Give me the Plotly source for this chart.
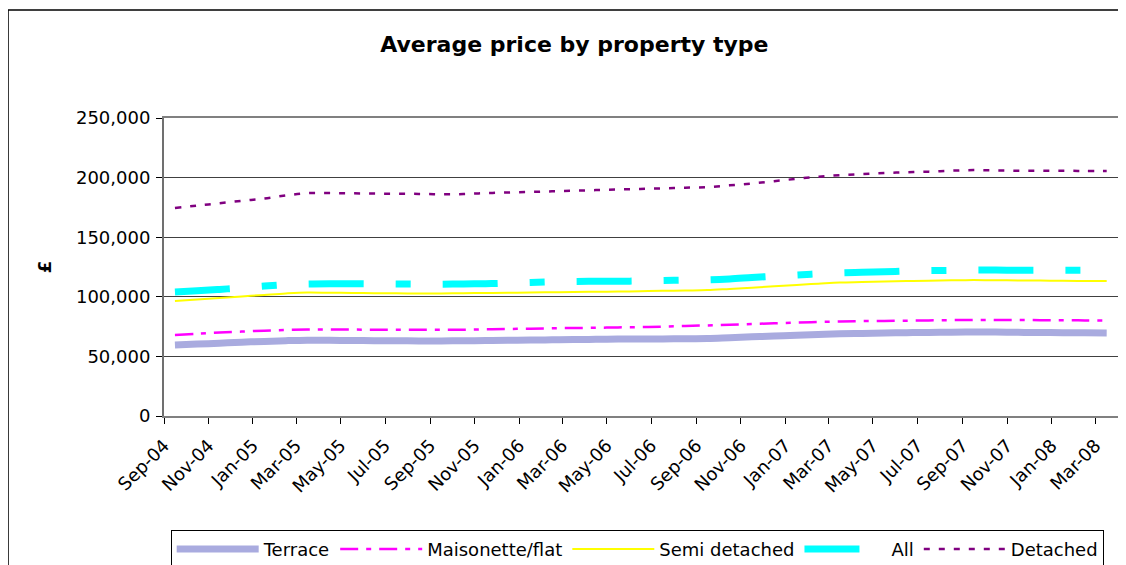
import plotly.graph_objects as go

months = [
    "2004-09-01", "2004-10-01", "2004-11-01", "2004-12-01",
    "2005-01-01", "2005-02-01", "2005-03-01", "2005-04-01", "2005-05-01", "2005-06-01",
    "2005-07-01", "2005-08-01", "2005-09-01", "2005-10-01", "2005-11-01", "2005-12-01",
    "2006-01-01", "2006-02-01", "2006-03-01", "2006-04-01", "2006-05-01", "2006-06-01",
    "2006-07-01", "2006-08-01", "2006-09-01", "2006-10-01", "2006-11-01", "2006-12-01",
    "2007-01-01", "2007-02-01", "2007-03-01", "2007-04-01", "2007-05-01", "2007-06-01",
    "2007-07-01", "2007-08-01", "2007-09-01", "2007-10-01", "2007-11-01", "2007-12-01",
    "2008-01-01", "2008-02-01", "2008-03-01",
]

terrace = [
    59500, 60300, 61100, 61900, 62600, 63200, 63600, 63500, 63300, 63200,
    63100, 63000, 63000, 63100, 63300, 63500, 63700, 63900, 64100, 64300,
    64500, 64600, 64700, 64800, 65000, 65700, 66400, 67100, 67800, 68400,
    68900, 69300, 69600, 69900, 70100, 70300, 70500, 70400, 70200, 70000,
    69900, 69800, 69700,
]

maisonette = [
    68000, 69000, 70000, 70800, 71600, 72200, 72600, 72600, 72500, 72400,
    72300, 72300, 72300, 72400, 72700, 73000, 73300, 73600, 73800, 74000,
    74300, 74600, 75000, 75500, 76000, 76600, 77200, 77800, 78400, 78900,
    79300, 79600, 79800, 80000, 80200, 80400, 80600, 80600, 80500, 80400,
    80300, 80200, 80100,
]

semi_detached = [
    96500, 97800, 99000, 100300, 101600, 102800, 103600, 103400, 103200, 103000,
    102900, 102800, 102800, 103000, 103200, 103400, 103600, 103800, 104000, 104200,
    104400, 104700, 105000, 105300, 105600, 106600, 107600, 108800, 110000, 111000,
    112000, 112400, 112800, 113200, 113500, 113800, 114000, 113900, 113700, 113600,
    113400, 113300, 113200,
]

all_types = [
    104000, 105000, 106200, 107500, 109000, 110200, 110800, 111000, 111000, 110900,
    110800, 110700, 110600, 110800, 111000, 111500, 112000, 112500, 112800, 113000,
    113000, 113300, 113700, 114000, 114200, 115000, 116200, 117300, 118300, 119300,
    120100, 120600, 121000, 121600, 122000, 122200, 122400, 122400, 122300, 122300,
    122300, 122300, 122300,
]

detached = [
    174500, 176500, 178500, 180500, 182500, 185000, 187000, 187000, 186800, 186600,
    186500, 186300, 186000, 186200, 187000, 187500, 188000, 188500, 189000, 189500,
    190000, 190500, 191000, 191500, 192000, 193500, 195000, 197000, 199000, 200800,
    202000, 203000, 203800, 204500, 205000, 205800, 206300, 206000, 205800, 205800,
    205700, 205600, 205500,
]

FONT = "DejaVu Sans"

common = dict(x=months, xperiod="M1", xperiodalignment="middle", mode="lines")

fig = go.Figure()
fig.add_trace(go.Scatter(y=terrace, name="Terrace",
                         line=dict(color="#a9abdf", width=7, shape="spline"), **common))
fig.add_trace(go.Scatter(y=maisonette, name="Maisonette/flat",
                         line=dict(color="#FF00FF", width=2.5, dash="18px,8px,5px,8px", shape="spline"), **common))
fig.add_trace(go.Scatter(y=semi_detached, name="Semi detached",
                         line=dict(color="#FFFF00", width=2, shape="spline"), **common))
fig.add_trace(go.Scatter(y=all_types, name="All",
                         line=dict(color="#00FFFF", width=7, dash="55px,32px,15px,32px", shape="spline"), **common))
fig.add_trace(go.Scatter(y=detached, name="Detached",
                         line=dict(color="#800080", width=2.5, dash="6px,9px", shape="spline"), **common))

fig.update_layout(
    width=1126, height=565,
    margin=dict(l=156, r=16, t=110, b=157, autoexpand=False),
    paper_bgcolor="white", plot_bgcolor="white",
    font=dict(family=FONT, size=18, color="black"),
    title=dict(text="<b>Average price by property type</b>", x=0.503, xanchor="center",
               y=0.935, yanchor="middle", font=dict(family=FONT, size=22, color="black")),
    showlegend=True,
    legend=dict(orientation="h", x=0.496, xanchor="center", y=-0.382, yanchor="top",
                bordercolor="black", borderwidth=1, bgcolor="white",
                font=dict(family=FONT, size=18), itemwidth=82, tracegroupgap=0),
    xaxis=dict(
        type="date", automargin=False,
        range=["2004-09-01", "2008-04-01"],
        tick0="2004-09-01", dtick="M2", tickformat="%b-%y",
        tickangle=-45, ticks="outside", ticklen=6, tickcolor="black",
        ticklabelstandoff=4,
        showgrid=False, showline=True, linecolor="#808080", linewidth=2, mirror=True,
        tickfont=dict(family=FONT, size=18),
    ),
    yaxis=dict(
        automargin=False,
        range=[0, 250000], dtick=50000, tickformat=",",
        ticks="outside", ticklen=6, tickcolor="black",
        ticklabelstandoff=2,
        showgrid=True, gridcolor="#404040", gridwidth=1,
        showline=True, linecolor="#707070", linewidth=2, mirror=True,
        zeroline=False,
        title=dict(text="<b>£</b>", font=dict(family=FONT, size=18), standoff=20),
        tickfont=dict(family=FONT, size=18),
    ),
    shapes=[dict(type="rect", xref="paper", yref="paper",
                 x0=-0.1635, x1=1.03, y0=-0.6, y1=1.362,
                 line=dict(color="black", width=1.5), layer="below")],
)

fig.write_html("out.html")
